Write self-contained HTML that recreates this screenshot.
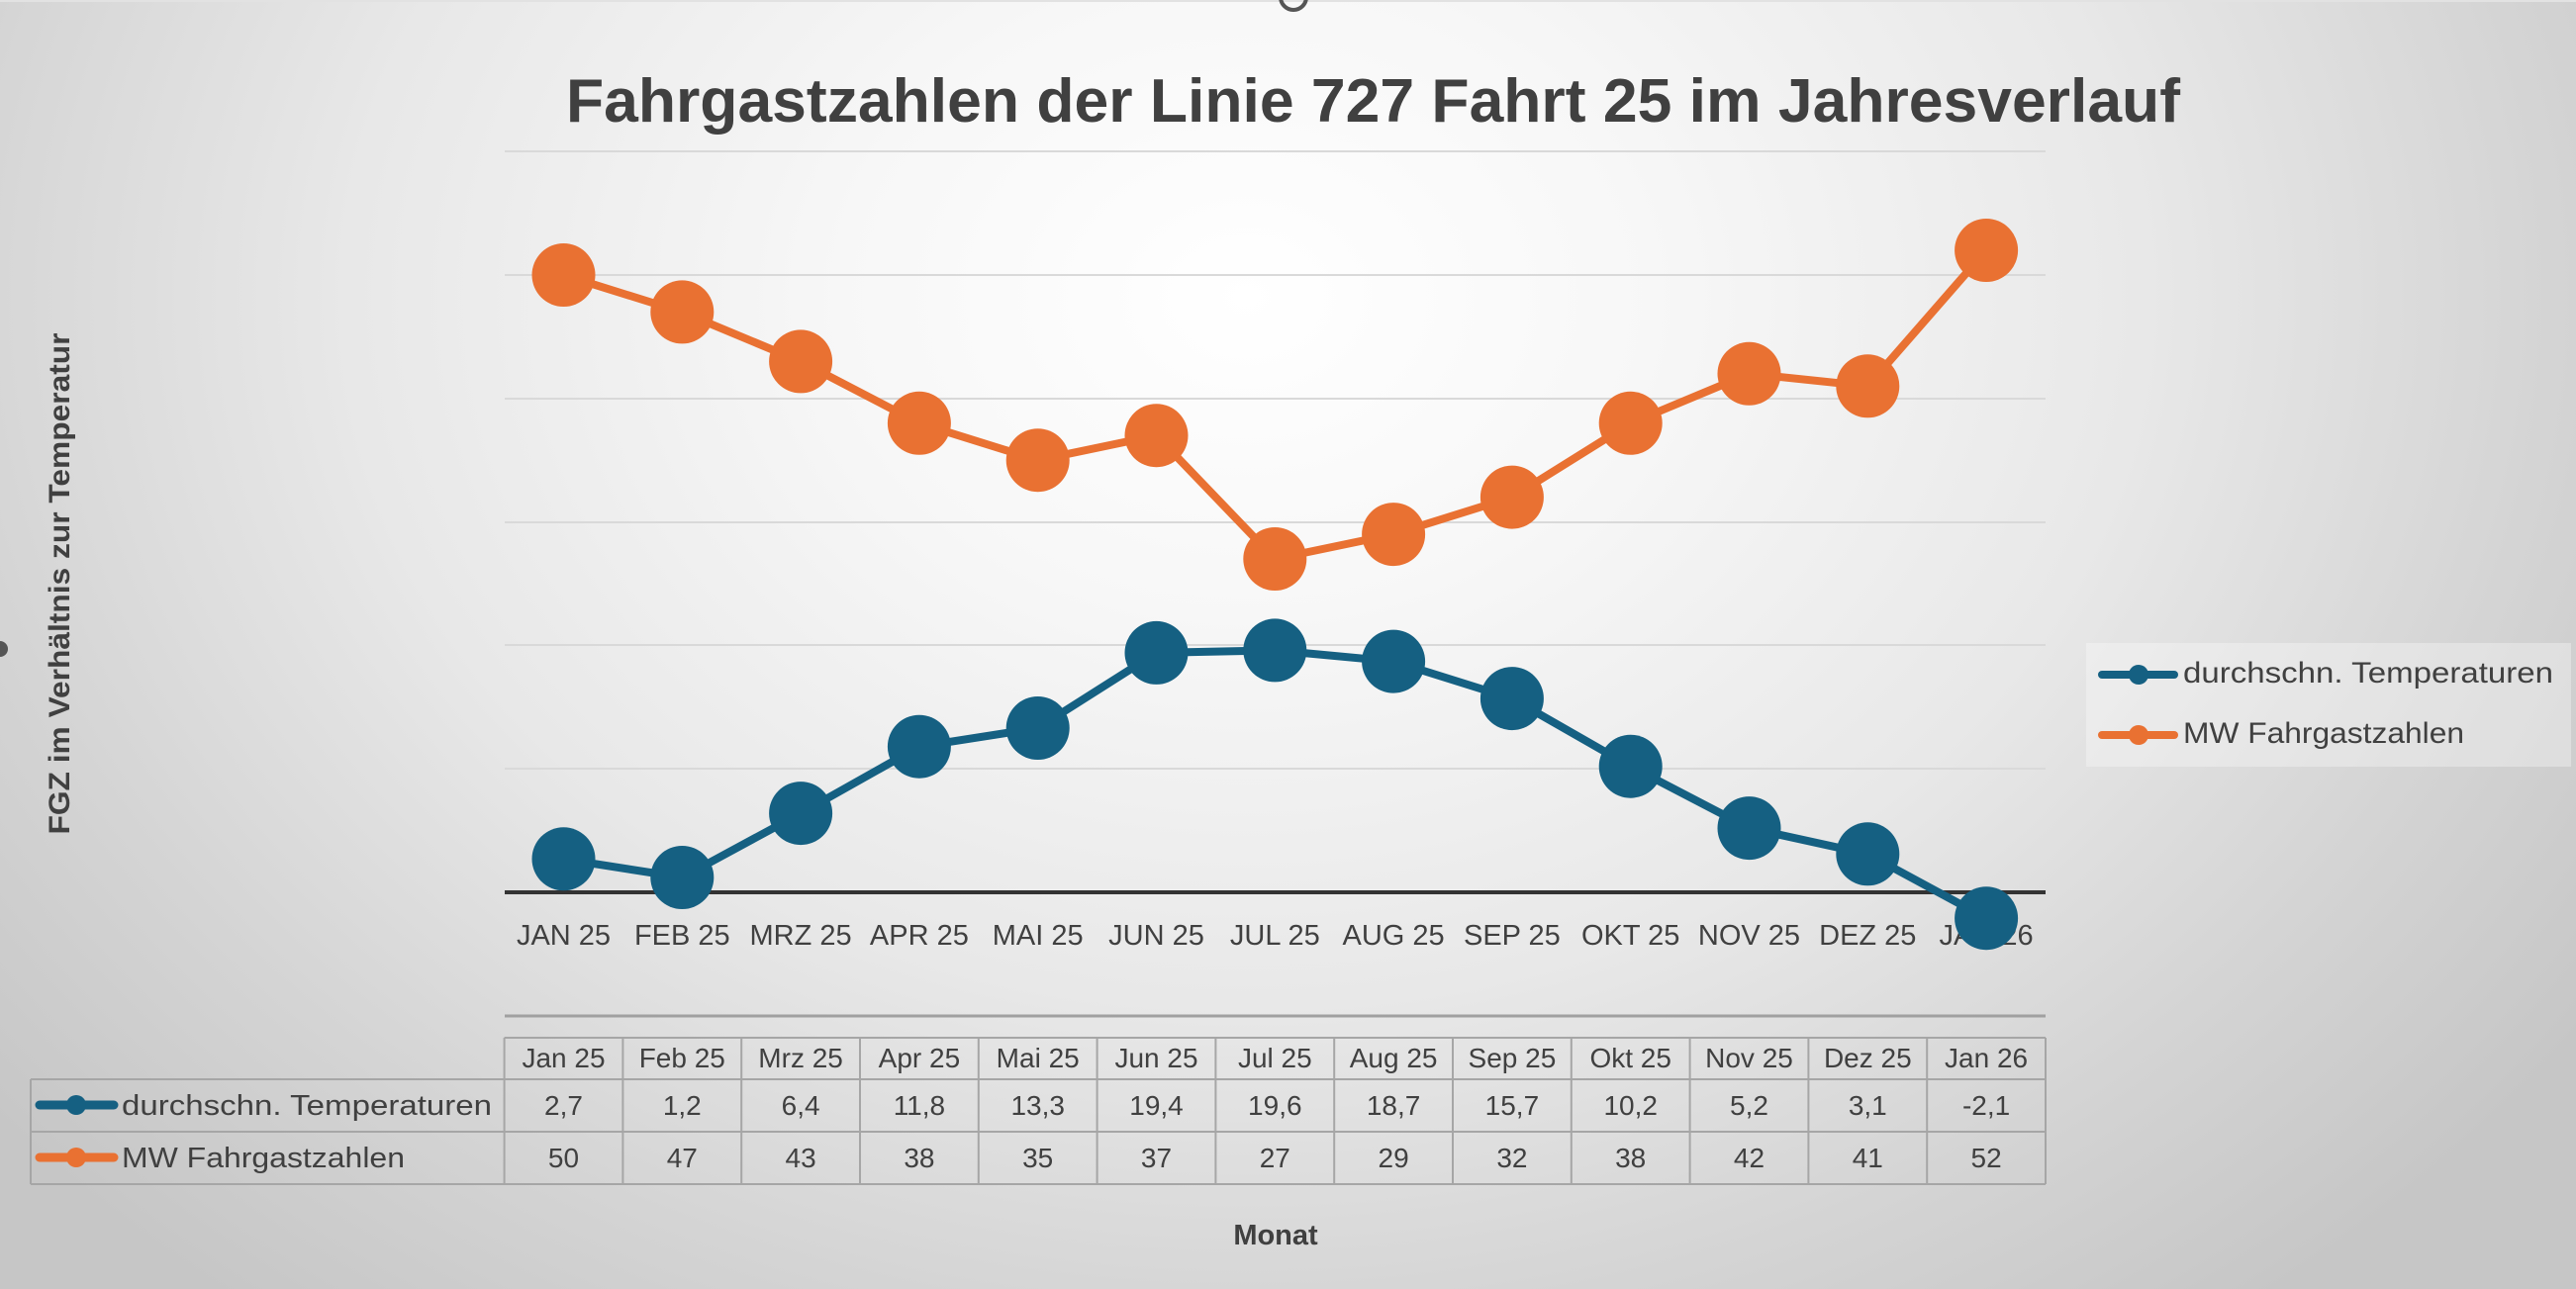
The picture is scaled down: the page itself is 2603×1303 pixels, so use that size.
<!DOCTYPE html>
<html>
<head>
<meta charset="utf-8">
<style>
  html,body{margin:0;padding:0;}
  body{width:2603px;height:1303px;overflow:hidden;
    background: radial-gradient(ellipse 1650px 1300px at 1260px 300px, #ffffff 0%, #f7f7f7 25%, #e8e8e8 55%, #d4d4d4 80%, #c6c6c6 100%);}
  svg{position:absolute;left:0;top:0;}
  text{font-family:"Liberation Sans", sans-serif;}
</style>
</head>
<body>
<svg width="2603" height="1303" viewBox="0 0 2603 1303" xmlns="http://www.w3.org/2000/svg">
  <!-- top artifacts -->
  <line x1="0" y1="1" x2="2603" y2="1" stroke="#e2e2e2" stroke-width="2"/>
  <circle cx="1307" cy="-3" r="13" fill="none" stroke="#555" stroke-width="4"/>
  <circle cx="0" cy="656" r="8" fill="#555"/>

  <!-- Title -->
  <text x="572" y="123" font-size="62" font-weight="bold" fill="#404040" textLength="1631" lengthAdjust="spacingAndGlyphs">Fahrgastzahlen der Linie 727 Fahrt 25 im Jahresverlauf</text>

  <!-- Gridlines -->
  <g stroke="#d9d9d9" stroke-width="2">
    <line x1="510" y1="153" x2="2067" y2="153"/>
    <line x1="510" y1="278" x2="2067" y2="278"/>
    <line x1="510" y1="403" x2="2067" y2="403"/>
    <line x1="510" y1="528" x2="2067" y2="528"/>
    <line x1="510" y1="652" x2="2067" y2="652"/>
    <line x1="510" y1="777" x2="2067" y2="777"/>
  </g>
  <line x1="510" y1="1027" x2="2067" y2="1027" stroke="#a0a0a0" stroke-width="3"/>
  <!-- zero axis -->
  <line x1="510" y1="902" x2="2067" y2="902" stroke="#333333" stroke-width="4"/>

  <!-- X labels -->
  <g font-size="29" fill="#404040" text-anchor="middle">
    <text x="569.5" y="955">JAN 25</text>
    <text x="689.3" y="955">FEB 25</text>
    <text x="809.1" y="955">MRZ 25</text>
    <text x="928.9" y="955">APR 25</text>
    <text x="1048.7" y="955">MAI 25</text>
    <text x="1168.5" y="955">JUN 25</text>
    <text x="1288.3" y="955">JUL 25</text>
    <text x="1408.1" y="955">AUG 25</text>
    <text x="1527.9" y="955">SEP 25</text>
    <text x="1647.7" y="955">OKT 25</text>
    <text x="1767.5" y="955">NOV 25</text>
    <text x="1887.3" y="955">DEZ 25</text>
    <text x="2007.1" y="955">JAN 26</text>
  </g>

  <!-- Temperature series -->
  <polyline fill="none" stroke="#156082" stroke-width="8" stroke-linejoin="round"
    points="569.5,868.3 689.3,887 809.1,822.1 928.9,754.7 1048.7,736 1168.5,659.9 1288.3,657.4 1408.1,668.6 1527.9,706.1 1647.7,774.7 1767.5,837.1 1887.3,863.3 2007.1,928.2"/>
  <g fill="#156082">
    <circle cx="569.5" cy="868.3" r="32"/>
    <circle cx="689.3" cy="887" r="32"/>
    <circle cx="809.1" cy="822.1" r="32"/>
    <circle cx="928.9" cy="754.7" r="32"/>
    <circle cx="1048.7" cy="736" r="32"/>
    <circle cx="1168.5" cy="659.9" r="32"/>
    <circle cx="1288.3" cy="657.4" r="32"/>
    <circle cx="1408.1" cy="668.6" r="32"/>
    <circle cx="1527.9" cy="706.1" r="32"/>
    <circle cx="1647.7" cy="774.7" r="32"/>
    <circle cx="1767.5" cy="837.1" r="32"/>
    <circle cx="1887.3" cy="863.3" r="32"/>
    <circle cx="2007.1" cy="928.2" r="32"/>
  </g>

  <!-- FGZ series -->
  <polyline fill="none" stroke="#E97132" stroke-width="8" stroke-linejoin="round"
    points="569.5,278 689.3,315.4 809.1,365.4 928.9,427.8 1048.7,465.2 1168.5,440.2 1288.3,565 1408.1,540.1 1527.9,502.6 1647.7,427.8 1767.5,377.8 1887.3,390.3 2007.1,253"/>
  <g fill="#E97132">
    <circle cx="569.5" cy="278" r="32"/>
    <circle cx="689.3" cy="315.4" r="32"/>
    <circle cx="809.1" cy="365.4" r="32"/>
    <circle cx="928.9" cy="427.8" r="32"/>
    <circle cx="1048.7" cy="465.2" r="32"/>
    <circle cx="1168.5" cy="440.2" r="32"/>
    <circle cx="1288.3" cy="565" r="32"/>
    <circle cx="1408.1" cy="540.1" r="32"/>
    <circle cx="1527.9" cy="502.6" r="32"/>
    <circle cx="1647.7" cy="427.8" r="32"/>
    <circle cx="1767.5" cy="377.8" r="32"/>
    <circle cx="1887.3" cy="390.3" r="32"/>
    <circle cx="2007.1" cy="253" r="32"/>
  </g>

  <!-- Y axis title -->
  <text transform="translate(70,590) rotate(-90)" text-anchor="middle" font-size="30" font-weight="bold" fill="#404040" textLength="507" lengthAdjust="spacingAndGlyphs">FGZ im Verhältnis zur Temperatur</text>

  <!-- Legend -->
  <rect x="2108" y="650" width="490" height="125" fill="#ffffff" fill-opacity="0.32"/>
  <line x1="2124" y1="682" x2="2197" y2="682" stroke="#156082" stroke-width="8" stroke-linecap="round"/>
  <circle cx="2161" cy="682" r="10" fill="#156082"/>
  <text x="2206" y="690" font-size="30" fill="#404040" textLength="374" lengthAdjust="spacingAndGlyphs">durchschn. Temperaturen</text>
  <line x1="2124" y1="743" x2="2197" y2="743" stroke="#E97132" stroke-width="8" stroke-linecap="round"/>
  <circle cx="2161" cy="743" r="10" fill="#E97132"/>
  <text x="2206" y="751" font-size="30" fill="#404040" textLength="284" lengthAdjust="spacingAndGlyphs">MW Fahrgastzahlen</text>

  <!-- Data table -->
  <g stroke="#a6a6a6" stroke-width="2" fill="none">
    <line x1="509.6" y1="1049" x2="2067" y2="1049"/>
    <line x1="31" y1="1091" x2="2067" y2="1091"/>
    <line x1="31" y1="1144" x2="2067" y2="1144"/>
    <line x1="31" y1="1197" x2="2067" y2="1197"/>
    <line x1="31" y1="1091" x2="31" y2="1197"/>
    <line x1="509.6" y1="1049" x2="509.6" y2="1197"/>
    <line x1="629.4" y1="1049" x2="629.4" y2="1197"/>
    <line x1="749.2" y1="1049" x2="749.2" y2="1197"/>
    <line x1="869" y1="1049" x2="869" y2="1197"/>
    <line x1="988.8" y1="1049" x2="988.8" y2="1197"/>
    <line x1="1108.6" y1="1049" x2="1108.6" y2="1197"/>
    <line x1="1228.4" y1="1049" x2="1228.4" y2="1197"/>
    <line x1="1348.2" y1="1049" x2="1348.2" y2="1197"/>
    <line x1="1468" y1="1049" x2="1468" y2="1197"/>
    <line x1="1587.8" y1="1049" x2="1587.8" y2="1197"/>
    <line x1="1707.6" y1="1049" x2="1707.6" y2="1197"/>
    <line x1="1827.4" y1="1049" x2="1827.4" y2="1197"/>
    <line x1="1947.2" y1="1049" x2="1947.2" y2="1197"/>
    <line x1="2067" y1="1049" x2="2067" y2="1197"/>
  </g>
  <g font-size="28" fill="#404040" text-anchor="middle">
    <text x="569.5" y="1079">Jan 25</text>
    <text x="689.3" y="1079">Feb 25</text>
    <text x="809.1" y="1079">Mrz 25</text>
    <text x="928.9" y="1079">Apr 25</text>
    <text x="1048.7" y="1079">Mai 25</text>
    <text x="1168.5" y="1079">Jun 25</text>
    <text x="1288.3" y="1079">Jul 25</text>
    <text x="1408.1" y="1079">Aug 25</text>
    <text x="1527.9" y="1079">Sep 25</text>
    <text x="1647.7" y="1079">Okt 25</text>
    <text x="1767.5" y="1079">Nov 25</text>
    <text x="1887.3" y="1079">Dez 25</text>
    <text x="2007.1" y="1079">Jan 26</text>

    <text x="569.5" y="1127">2,7</text>
    <text x="689.3" y="1127">1,2</text>
    <text x="809.1" y="1127">6,4</text>
    <text x="928.9" y="1127">11,8</text>
    <text x="1048.7" y="1127">13,3</text>
    <text x="1168.5" y="1127">19,4</text>
    <text x="1288.3" y="1127">19,6</text>
    <text x="1408.1" y="1127">18,7</text>
    <text x="1527.9" y="1127">15,7</text>
    <text x="1647.7" y="1127">10,2</text>
    <text x="1767.5" y="1127">5,2</text>
    <text x="1887.3" y="1127">3,1</text>
    <text x="2007.1" y="1127">-2,1</text>

    <text x="569.5" y="1180">50</text>
    <text x="689.3" y="1180">47</text>
    <text x="809.1" y="1180">43</text>
    <text x="928.9" y="1180">38</text>
    <text x="1048.7" y="1180">35</text>
    <text x="1168.5" y="1180">37</text>
    <text x="1288.3" y="1180">27</text>
    <text x="1408.1" y="1180">29</text>
    <text x="1527.9" y="1180">32</text>
    <text x="1647.7" y="1180">38</text>
    <text x="1767.5" y="1180">42</text>
    <text x="1887.3" y="1180">41</text>
    <text x="2007.1" y="1180">52</text>
  </g>
  <!-- table legend keys -->
  <line x1="40" y1="1117" x2="115" y2="1117" stroke="#156082" stroke-width="9" stroke-linecap="round"/>
  <circle cx="77" cy="1117" r="10" fill="#156082"/>
  <text x="123" y="1127" font-size="29" fill="#404040" textLength="374" lengthAdjust="spacingAndGlyphs">durchschn. Temperaturen</text>
  <line x1="40" y1="1170" x2="115" y2="1170" stroke="#E97132" stroke-width="9" stroke-linecap="round"/>
  <circle cx="77" cy="1170" r="10" fill="#E97132"/>
  <text x="123" y="1180" font-size="29" fill="#404040" textLength="286" lengthAdjust="spacingAndGlyphs">MW Fahrgastzahlen</text>

  <!-- X axis title -->
  <text x="1289" y="1258" text-anchor="middle" font-size="29" font-weight="bold" fill="#404040">Monat</text>
</svg>
</body>
</html>
